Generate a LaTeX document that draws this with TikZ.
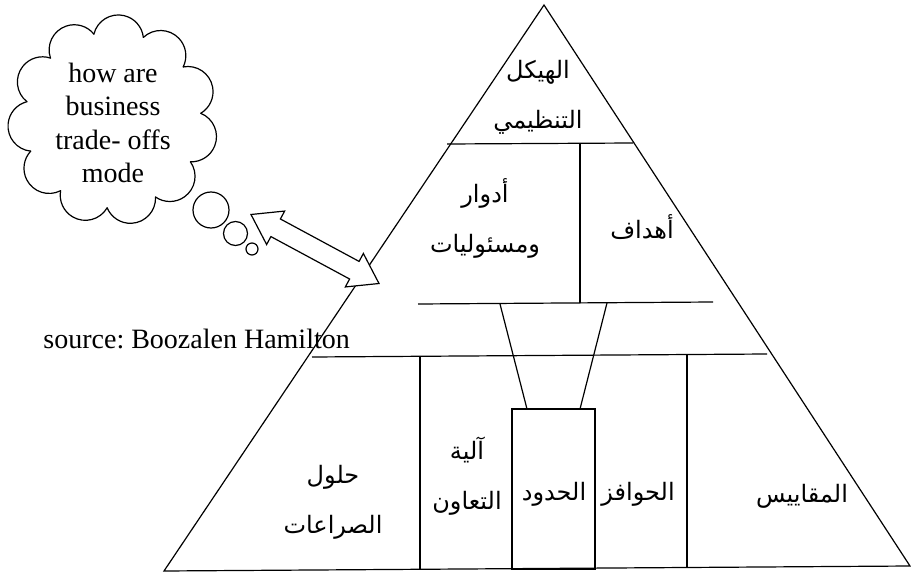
\documentclass[tikz,border=0pt]{standalone}
\usepackage{fontspec}
\setmainfont{Liberation Serif}
\newfontfamily\arabicfont[Script=Arabic]{DejaVu Sans}
\TeXXeTstate=1
\usetikzlibrary{calc}
\newcommand\arab[1]{\beginR #1\endR}

\begin{document}
\begin{tikzpicture}[x=1pt,y=-1pt,
  edge/.style={line width=1.2pt, line join=miter},
  artext/.style={font=\arabicfont\fontsize{24}{50}\selectfont, align=center, inner sep=0pt},
  entext/.style={font=\fontsize{28}{33.5}\selectfont, inner sep=0pt},
  bubble/.style={circle, draw, fill=white, line width=1.2pt, inner sep=0pt}]
\fill[white] (0,0) rectangle (911,575);
\useasboundingbox (0,0) rectangle (911,575);

% thought cloud: eleven circular puffs around a centre
\coordinate (cloud) at (113,120);
\def\puffs{11}
\def\ringR{88}
\def\puffspan{160}
\pgfmathsetmacro\dth{360/\puffs}
\pgfmathsetmacro\chord{2*\ringR*sin(\dth/2)}
\pgfmathsetmacro\puffr{\chord/(2*sin(\puffspan/2))}
\pgfmathsetmacro\puffc{\ringR*cos(\dth/2)-\puffr*cos(\puffspan/2)}
\foreach \i in {0,...,10}{
  \pgfmathsetmacro\tm{\i*\dth+12}
  \draw[edge, line cap=round] ($(cloud)+(\tm:\puffc)+(\tm-\puffspan/2:\puffr)$)
    arc[start angle=\tm-\puffspan/2, end angle=\tm+\puffspan/2, radius=\puffr];
}
\node[bubble, minimum size=36pt] (b1) at (211,210) {};
\node[bubble, minimum size=24pt] (b2) at (235.5,233.5) {};
\node[bubble, minimum size=12pt] (b3) at (252,249) {};
\node[entext, align=center] (thought) at (113,123) {how are\\business\\trade- offs\\mode};

% pyramid outline
\coordinate (apex) at (544,5);
\coordinate (bl) at (164,571);
\coordinate (br) at (910,566);
\draw[edge] (bl) -- (apex) -- (br) -- cycle;

% tiers and partitions
\draw[edge] (447,144) -- (633,143);
\draw[edge] (580,143) -- (580,303);
\draw[edge] (418,304) -- (713,302);
\draw[edge] (500,304) -- (527,409);
\draw[edge] (607,303) -- (580,409);
\draw[edge] (312,357) -- (767,354);
\draw[edge] (420,357) -- (420,570);
\draw[edge] (687,355) -- (687,568);
\draw[edge] (512,409) rectangle (595,569);

% two-headed block arrow between cloud and pyramid
\coordinate (tipA) at (251,214.5);
\coordinate (tipB) at (379,283.5);
\coordinate (hA) at ($(tipA)!28pt!(tipB)$);
\coordinate (hB) at ($(tipB)!28pt!(tipA)$);
\draw[edge, fill=white] (tipA) -- ($(hA)!19pt!90:(tipB)$) -- ($(hA)!10pt!90:(tipB)$)
  -- ($(hB)!10pt!-90:(tipA)$) -- ($(hB)!19pt!-90:(tipA)$) -- (tipB)
  -- ($(hB)!19pt!90:(tipA)$) -- ($(hB)!10pt!90:(tipA)$)
  -- ($(hA)!10pt!-90:(tipB)$) -- ($(hA)!19pt!-90:(tipB)$) -- cycle;

% labels
\node[artext] (structure) at (538,97) {\arab{الهيكل}\\\arab{التنظيمي}};
\node[artext] (roles) at (485,218) {\arab{أدوار}\\\arab{ومسئوليات}};
\node[artext] (goals) at (642,227) {\arab{أهداف}};
\node[artext] (conflict) at (333,502) {\arab{حلول}\\\arab{الصراعات}};
\node[artext] (cooperation) at (467,476) {\arab{آلية}\\\arab{التعاون}};
\node[artext] (limits) at (554,494) {\arab{الحدود}};
\node[artext] (incentives) at (638,494) {\arab{الحوافز}};
\node[artext] (metrics) at (802,496) {\arab{المقاييس}};

\node[entext, anchor=base east] (src) at (350,348) {source:\ Boozalen Hamilton};
\end{tikzpicture}
\end{document}
